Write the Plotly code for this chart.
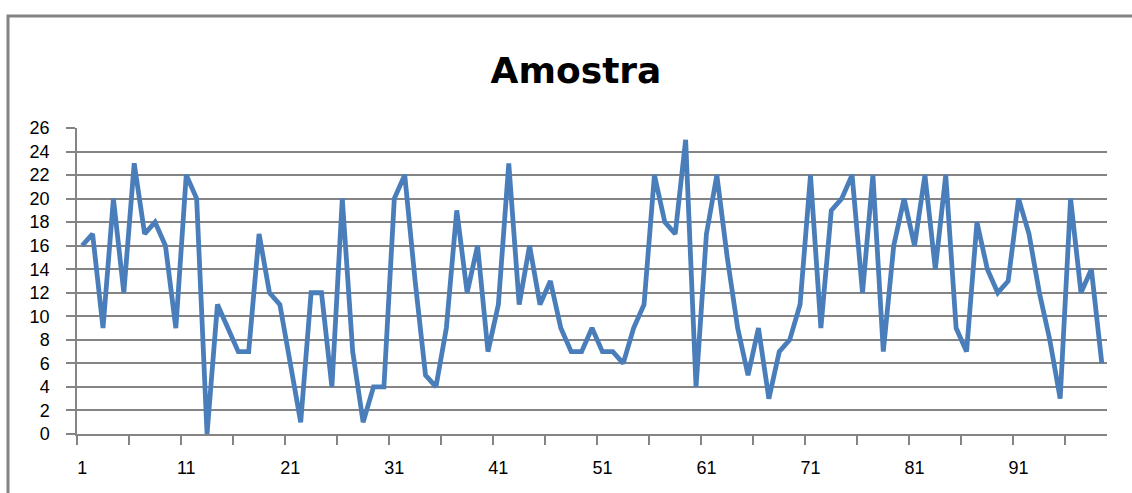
import plotly.graph_objects as go

title_text = "Amostra"
categories = list(range(1, 100))
values = [16, 17, 9, 20, 12, 23, 17, 18, 16, 9,
          22, 20, 0, 11, 9, 7, 7, 17, 12, 11,
          6, 1, 12, 12, 4, 20, 7, 1, 4, 4,
          20, 22, 13, 5, 4, 9, 19, 12, 16, 7,
          11, 23, 11, 16, 11, 13, 9, 7, 7, 9,
          7, 7, 6, 9, 11, 22, 18, 17, 25, 4,
          17, 22, 15, 9, 5, 9, 3, 7, 8, 11,
          22, 9, 19, 20, 22, 12, 22, 7, 16, 20,
          16, 22, 14, 22, 9, 7, 18, 14, 12, 13,
          20, 17, 12, 8, 3, 20, 12, 14, 6]
x_labels = [1, 11, 21, 31, 41, 51, 61, 71, 81, 91]
y_ticks = list(range(0, 27, 2))

FONT = "Liberation Sans, Arial, sans-serif"
GRID = "#848484"

fig = go.Figure()
fig.add_trace(go.Scatter(
    x=categories, y=values, mode="lines",
    line=dict(color="#4A7EBB", width=4.8),
    hoverinfo="x+y", showlegend=False,
))

fig.update_layout(
    width=1132, height=493,
    margin=dict(l=77, r=25, t=128, b=59),
    paper_bgcolor="white", plot_bgcolor="white",
    font=dict(family=FONT, color="#000000", size=18),
    title=dict(text="<b>" + title_text + "</b>", x=(576 - 77) / 1030, xref="paper",
               xanchor="center", y=1 - 70 / 493, yanchor="middle",
               font=dict(family="DejaVu Sans, Liberation Sans, sans-serif", size=36, color="#000000")),
    xaxis=dict(
        range=[0.5, 99.5], tickmode="array", tickvals=x_labels,
        ticktext=[str(v) for v in x_labels], ticks="", showgrid=False,
        showline=True, linecolor=GRID, linewidth=1.5, zeroline=False,
        ticklabelstandoff=17, tickfont=dict(size=18),
        minor=dict(tickmode="linear", tick0=0.5, dtick=5, ticks="outside",
                   ticklen=9, tickcolor=GRID, tickwidth=1.5, showgrid=False),
    ),
    yaxis=dict(
        range=[0, 26], tickmode="array", tickvals=y_ticks,
        ticks="outside", ticklen=9, tickcolor=GRID, tickwidth=1.5,
        showgrid=True, gridcolor=GRID, gridwidth=1.5,
        showline=True, linecolor=GRID, linewidth=1.5, zeroline=False,
        ticklabelstandoff=13, tickfont=dict(size=18),
    ),
    shapes=[dict(type="rect", xref="paper", yref="paper",
                 x0=(8 - 77) / 1030, x1=(1145 - 77) / 1030,
                 y0=(434 - 510) / 306, y1=(434 - 16) / 306,
                 line=dict(color=GRID, width=3), fillcolor="rgba(0,0,0,0)",
                 layer="below")],
)

fig.write_html("out.html", config={"displayModeBar": False},
               post_script="document.body.style.margin='0px';document.body.style.overflow='hidden';")
